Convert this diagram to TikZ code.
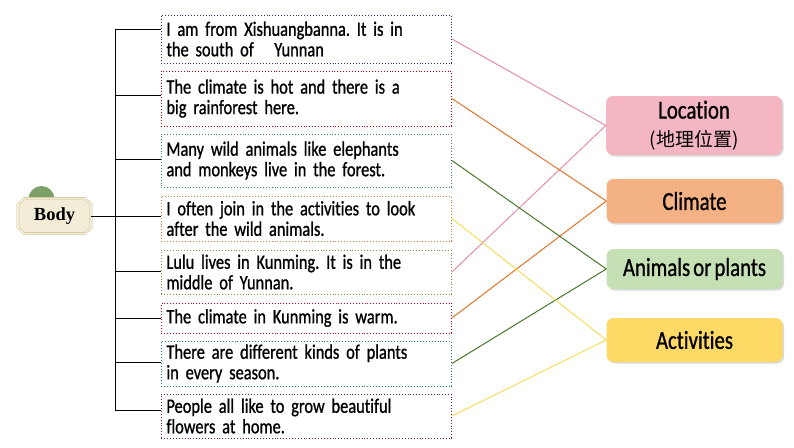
\documentclass[tikz,border=0pt]{standalone}
\usepackage{fontspec}
\setmainfont{Carlito}[FakeStretch=0.8, FakeBold=0.9, WordSpace=0.65, Ligatures=NoCommon]
\newfontfamily\bodyfont{Liberation Serif}
\newfontfamily\cjkfont{Noto Sans CJK SC}
\usetikzlibrary{positioning,shapes.misc,shadows}
\frenchspacing

\definecolor{locfill}{RGB}{244,182,194}
\definecolor{climfill}{RGB}{244,177,131}
\definecolor{animfill}{RGB}{197,224,180}
\definecolor{actfill}{RGB}{255,217,102}
\definecolor{loclink}{RGB}{228,140,170}
\definecolor{climlink}{RGB}{225,115,35}
\definecolor{animlink}{RGB}{70,120,40}
\definecolor{actlink}{RGB}{245,220,90}
\definecolor{bodyfill}{RGB}{243,236,214}
\definecolor{bodyline}{RGB}{200,186,140}
\definecolor{bodygreen}{RGB}{125,160,105}

\begin{document}
\begin{tikzpicture}[x=1pt, y=-1pt,
    item/.style={draw=#1, dotted, line width=0.9pt, anchor=west, text width=280pt,
      inner xsep=5pt, inner ysep=2pt, align=left, font=\fontsize{20.5}{20.5}\selectfont},
    cat/.style={fill=#1, rounded corners=7pt, minimum width=176pt, align=center,
      drop shadow={shadow xshift=1.5pt, shadow yshift=-1.5pt, opacity=0.3},
      font=\fontsize{26}{28}\selectfont},
    link/.style={line width=1pt},
    tree/.style={line width=0.9pt}]

    \useasboundingbox (0,0) rectangle (794,447);

    % Body
    \fill[bodygreen] (41.5,199) circle (13);
    \node[chamfered rectangle, chamfered rectangle xsep=3pt, chamfered rectangle ysep=3pt,
      minimum width=73pt, minimum height=35pt, fill=bodyfill, draw=bodyline,
      double=bodyfill, double distance=2pt, font=\bodyfont\bfseries\fontsize{18.5}{20}\selectfont]
      (body) at (54.5,216) {Body};

    % Sentences
    \node[item=blue!30!darkgray, minimum height=48pt] (b1) at (161,39) {I am from Xishuangbanna. It is in\\the south of\quad Yunnan};
    \node[item=red!75!black, minimum height=55pt] (b2) at (161,98.5) {The climate is hot and there is a\\big rainforest here.};
    \node[item=teal!50!gray, minimum height=53pt] (b3) at (161,160.5) {Many wild animals like elephants\\and monkeys live in the forest.};
    \node[item=brown!70!orange, minimum height=45pt] (b4) at (161,218.5) {I often join in the activities to look\\after the wild animals.};
    \node[item=olive!50!gray, minimum height=44pt] (b5) at (161,272) {Lulu lives in Kunming. It is in the\\middle of Yunnan.};
    \node[item=purple!70!red, minimum height=30pt] (b6) at (161,318) {The climate in Kunming is warm.};
    \node[item=teal!80!gray, minimum height=45pt] (b7) at (161,363.5) {There are different kinds of plants\\in every season.};
    \node[item=violet!60!darkgray, minimum height=44pt] (b8) at (161,416) {People all like to grow beautiful\\flowers at home.};

    % Tree
    \coordinate (t1) at (115,29);
    \coordinate (t2) at (115,95);
    \coordinate (t3) at (115,159);
    \coordinate (t5) at (115,271);
    \coordinate (t6) at (115,318);
    \coordinate (t7) at (115,362);
    \coordinate (t8) at (115,410);
    \draw[tree] (t1) -- (t8);
    \draw[tree] (t1) -- (t1 -| b1.west);
    \draw[tree] (t2) -- (t2 -| b2.west);
    \draw[tree] (t3) -- (t3 -| b3.west);
    \draw[tree] (body.east) -- (body.east -| b4.west);
    \draw[tree] (t5) -- (t5 -| b5.west);
    \draw[tree] (t6) -- (t6 -| b6.west);
    \draw[tree] (t7) -- (t7 -| b7.west);
    \draw[tree] (t8) -- (t8 -| b8.west);

    % Categories
    \node[cat=locfill, minimum height=59pt] (loc) at (694,125.5) {Location\\{\cjkfont\fontsize{19}{24}\selectfont (地理位置)}};
    \node[cat=climfill, minimum height=44pt] (clim) at (694.5,201) {Climate};
    \node[cat=animfill, minimum height=40pt] (anim) at (694.5,269) {Animals or plants};
    \node[cat=actfill, minimum height=44pt] (act) at (694.5,340) {Activities};

    % Links
    \draw[link, loclink] (b1.east) -- (loc.west);
    \draw[link, loclink] (b5.east) -- (loc.west);
    \draw[link, climlink] (b2.east) -- (clim.west);
    \draw[link, climlink] (b6.east) -- (clim.west);
    \draw[link, animlink] (b3.east) -- (anim.west);
    \draw[link, animlink] (b7.east) -- (anim.west);
    \draw[link, actlink] (b4.east) -- (act.west);
    \draw[link, actlink] (b8.east) -- (act.west);
\end{tikzpicture}
\end{document}
